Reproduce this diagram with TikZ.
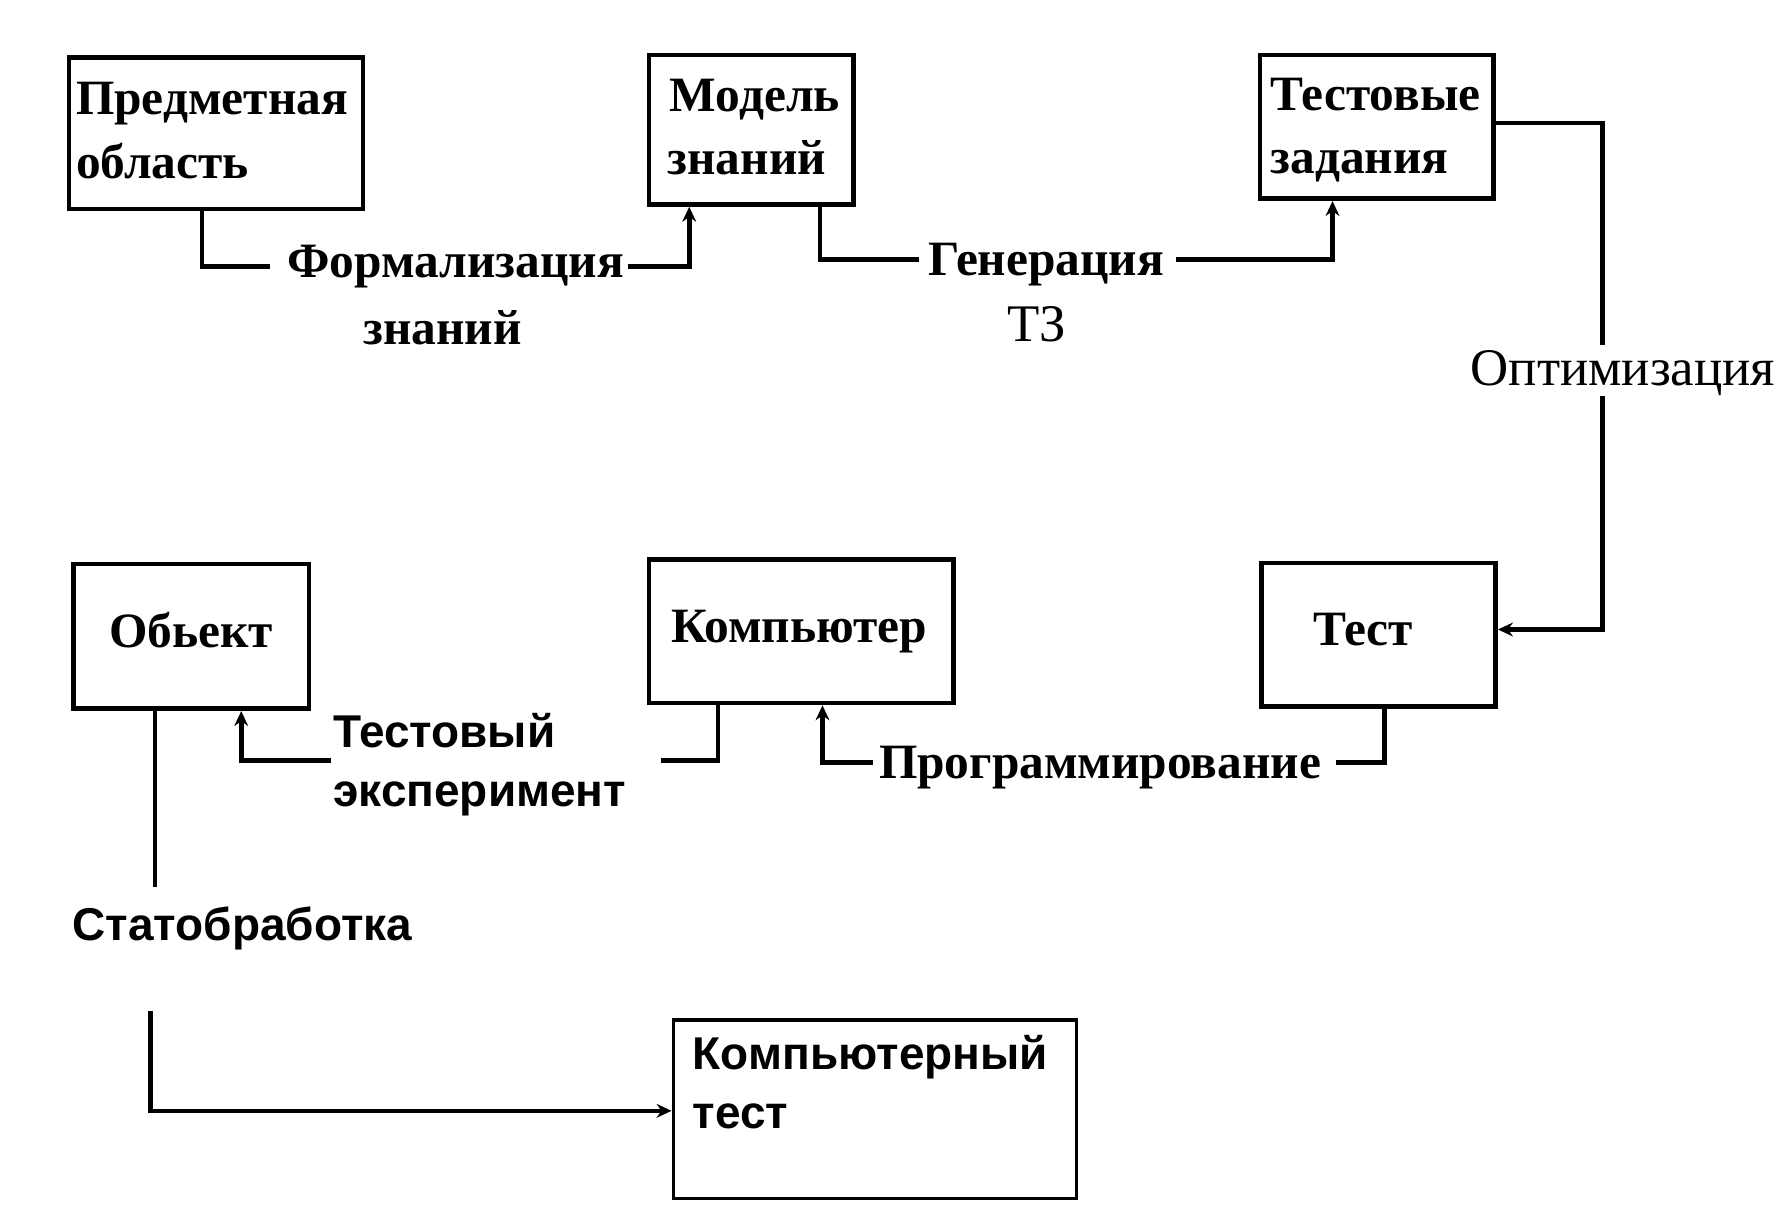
\documentclass[tikz,border=0pt]{standalone}
\usepackage{fontspec}
\setmainfont{Liberation Serif}
\newfontfamily\sansfam{Liberation Sans}
\usetikzlibrary{arrows.meta}
\tikzset{
  box/.style={draw=black, line width=4pt, fill=none, inner sep=0pt},
  thinbox/.style={draw=black, line width=2.8pt, inner sep=0pt},
  sb/.style={font=\fontsize{43}{52}\selectfont\bfseries, inner sep=0pt, anchor=base west},
  sr/.style={font=\fontsize{46}{52}\selectfont, inner sep=0pt, anchor=base west},
  ss/.style={font=\sansfam\fontsize{40}{46}\selectfont\bfseries, inner sep=0pt, anchor=base west},
  conn/.style={line width=4pt, line cap=butt, line join=miter},
  arr/.style={conn, -{Stealth[length=13pt,width=12pt]}},
}
\begin{document}
\begin{tikzpicture}[x=1pt,y=-1pt]
\useasboundingbox (0,0) rectangle (1560,1051.6);
% boxes
\node[box, minimum width=256pt, minimum height=132pt] (b1) at (188,116) {};
\node[box, minimum width=178pt, minimum height=130pt] (b2) at (654,113) {};
\node[box, minimum width=203pt, minimum height=125pt] (b3) at (1198.5,110.5) {};
\node[box, minimum width=205pt, minimum height=126pt] (b4) at (166.5,554) {};
\node[box, minimum width=265pt, minimum height=125pt] (b5) at (697.5,549.5) {};
\node[box, minimum width=204pt, minimum height=125pt] (b6) at (1200,552.5) {};
\node[thinbox, minimum width=351pt, minimum height=155pt] (b7) at (761.5,965.5) {};
% box texts
\node[sb] (t1a) at (66,100) {Предметная};
\node[sb] (t1b) at (66,155) {область};
\node[sb] (t2a) at (583,97) {Модель};
\node[sb] (t2b) at (581,152) {знаний};
\node[sb] (t3a) at (1106,96) {Тестовые};
\node[sb] (t3b) at (1106,151) {задания};
\node[sb] (t4) at (95,564) {Обьект};
\node[sb] (t5) at (584,559) {Компьютер};
\node[sb] (t6) at (1143,562) {Тест};
\node[ss] (t7a) at (603,931) {Компьютерный};
\node[ss] (t7b) at (603,982) {тест};
% labels
\node[sb] (f1) at (250,242) {Формализация};
\node[sb] (f2) at (316,300) {знаний};
\node[sb] (g1) at (808,240) {Генерация};
\node[sr] (g2) at (877,297) {ТЗ};
\node[sr] (o1) at (1280,336) {Оптимизация};
\node[sb] (p1) at (765,678) {Программирование};
\node[ss] (e1) at (290,651) {Тестовый};
\node[ss] (e2) at (290,702) {эксперимент};
\node[ss] (s1) at (63,819) {Статобработка};
% connectors
\draw[conn] ([xshift=-12pt]b1.south) |- ([xshift=-15pt,yshift=10pt]f1.base west);
\draw[arr] ([xshift=3pt,yshift=10pt]f1.base east) -| ([xshift=-54pt]b2.south);
\draw[conn] ([xshift=60pt]b2.south) |- ([xshift=-8pt,yshift=14pt]g1.base west);
\draw[arr] ([xshift=10pt,yshift=14pt]g1.base east) -| ([xshift=-38.5pt]b3.south);
\draw[conn] ([yshift=3.5pt]b3.east) -| ([xshift=115pt,yshift=36pt]o1.base west);
\draw[arr] ([xshift=115pt,yshift=-9pt]o1.base west) |- ([yshift=4.5pt]b6.east);
\draw[conn] ([xshift=5pt]b6.south) |- ([xshift=13pt,yshift=14pt]p1.base east);
\draw[arr] ([xshift=-5pt,yshift=14pt]p1.base west) -| ([xshift=18.5pt]b5.south);
\draw[conn] ([xshift=-72.5pt]b5.south) |- ([xshift=285pt,yshift=40pt]e2.base west);
\draw[arr] ([xshift=-2pt,yshift=-11pt]e1.base west) -| ([xshift=43.5pt]b4.south);
\draw[conn] ([xshift=-31.5pt]b4.south) -- ([xshift=72pt,yshift=47pt]s1.base west);
\draw[arr] ([xshift=68pt,yshift=-61pt]s1.base west) |- ([yshift=-1.5pt]b7.west);
\end{tikzpicture}
\end{document}
